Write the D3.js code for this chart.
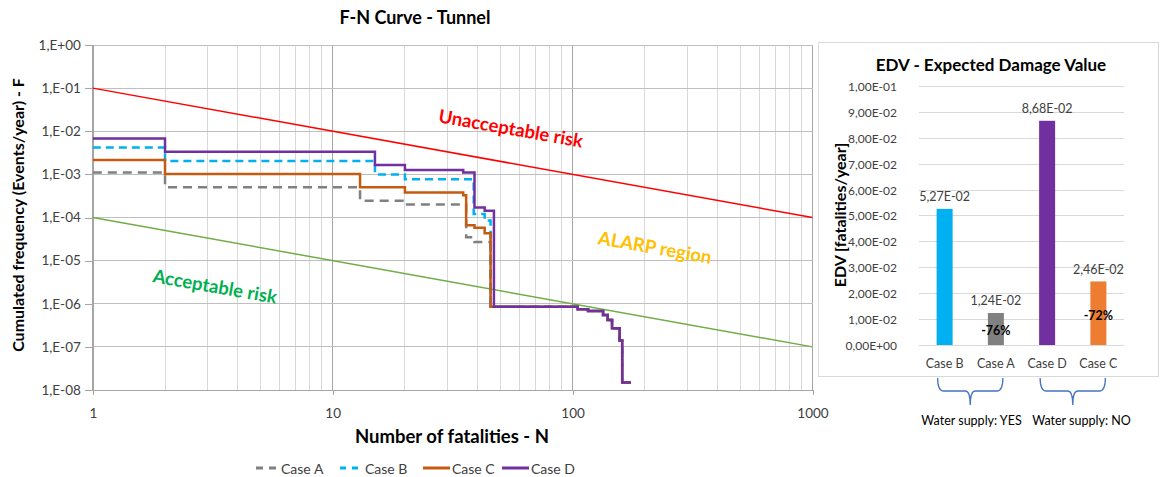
<!DOCTYPE html>
<html><head><meta charset="utf-8">
<script src="https://cdn.jsdelivr.net/npm/d3@7"></script>
<style>
body{margin:0;background:#fff;}
svg{display:block;font-family:Lato, "Open Sans", sans-serif;}
</style></head>
<body>
<svg id="c" width="1162" height="477"></svg>
<script>
// ---------- DATA: F-N curve ----------
const caseA_N = [1, 2, 13, 20, 36, 39, 45.5, 105, 116, 134, 140, 146, 157, 161, 175];
const caseA_F = [1.1e-3, 5e-4, 2.45e-4, 2e-4, 3.5e-5, 2.7e-5, 8.5e-7, 7.5e-7, 6.8e-7, 5.5e-7, 4.2e-7, 2.7e-7, 1.4e-7, 1.5e-8, 1.5e-8];
const caseB_N = [1, 2, 15, 20, 38.7, 43, 45.5, 105, 116, 134, 140, 146, 157, 161, 175];
const caseB_F = [4.2e-3, 2.05e-3, 1.0e-3, 7.7e-4, 1.2e-4, 8.5e-5, 8.5e-7, 7.5e-7, 6.8e-7, 5.5e-7, 4.2e-7, 2.7e-7, 1.4e-7, 1.5e-8, 1.5e-8];
const caseC_N = [1, 2, 13, 20, 35, 36, 39, 43, 45.5, 105, 116, 134, 140, 146, 157, 161, 175];
const caseC_F = [2.15e-3, 1.02e-3, 5e-4, 3.8e-4, 3.3e-4, 6.6e-5, 5.8e-5, 4.3e-5, 8.5e-7, 7.5e-7, 6.8e-7, 5.5e-7, 4.2e-7, 2.7e-7, 1.4e-7, 1.5e-8, 1.5e-8];
const caseD_N = [1, 2, 15, 20, 35, 39, 43, 47, 105, 116, 134, 140, 146, 157, 161, 175];
const caseD_F = [6.8e-3, 3.35e-3, 1.64e-3, 1.26e-3, 1.11e-3, 1.71e-4, 1.43e-4, 8.5e-7, 7.5e-7, 6.8e-7, 5.5e-7, 4.2e-7, 2.7e-7, 1.4e-7, 1.5e-8, 1.5e-8];
const seriesNames = ["Case A", "Case B", "Case C", "Case D"];
const riskN = [1, 1000];
const unacceptableF = [1e-1, 1e-4];
const acceptableF = [1e-4, 1e-7];
const yTickValues = [1, 1e-1, 1e-2, 1e-3, 1e-4, 1e-5, 1e-6, 1e-7, 1e-8];
const xTickValues = [1, 10, 100, 1000];
const regionLabels = ["Unacceptable risk", "ALARP region", "Acceptable risk"];

// ---------- DATA: EDV bars ----------
const barCategories = ["Case B", "Case A", "Case D", "Case C"];
const barValues = [5.27e-2, 1.24e-2, 8.68e-2, 2.46e-2];
const barReduction = ["", "-76%", "", "-72%"];
const barTicks = [0, 0.01, 0.02, 0.03, 0.04, 0.05, 0.06, 0.07, 0.08, 0.09, 0.1];
const groupLabels = ["Water supply: YES", "Water supply: NO"];

// ---------- STYLE ----------
const colA = "#808080", colB = "#00B0F0", colC = "#C55A11", colD = "#7030A0";
const barColors = {"Case B": "#00B0F0", "Case A": "#808080", "Case D": "#7030A0", "Case C": "#ED7D31"};

const svg = d3.select("#c");
svg.append("rect").attr("width", 1162).attr("height", 477).attr("fill", "#fff");

// ===== LEFT CHART =====
const x = d3.scaleLog().domain([1, 1000]).range([92.8, 812.5]);
const y = d3.scaleLog().domain([1e-8, 1]).range([390, 45]);
const gL = svg.append("g");

// vertical grid
const vgrid = [];
for (let d = 1; d <= 100; d *= 10) for (let k = 1; k <= 9; k++) vgrid.push(k * d);
vgrid.push(1000);
gL.selectAll(".vg").data(vgrid).enter().append("line")
  .attr("x1", d => x(d)).attr("x2", d => x(d))
  .attr("y1", y(1)).attr("y2", y(1e-8))
  .attr("stroke", d => [1, 10, 100, 1000].includes(d) ? "#a6a6a6" : "#d9d9d9")
  .attr("stroke-width", 1).attr("shape-rendering", "crispEdges");
// horizontal grid
gL.selectAll(".hg").data(yTickValues).enter().append("line")
  .attr("x1", x(1)).attr("x2", x(1000))
  .attr("y1", d => y(d)).attr("y2", d => y(d))
  .attr("stroke", "#bfbfbf").attr("stroke-width", 1).attr("shape-rendering", "crispEdges");

// axes
const fmtY = v => { const k = Math.round(Math.log10(v)); return "1,E" + (k >= 0 ? "+" : "-") + String(Math.abs(k)).padStart(2, "0"); };
const yAx = gL.append("g").attr("transform", `translate(${x(1)},0)`)
  .call(d3.axisLeft(y).tickValues(yTickValues).tickFormat(fmtY).tickSize(8).tickPadding(4));
const xAx = gL.append("g").attr("transform", `translate(0,${y(1e-8)})`)
  .call(d3.axisBottom(x).tickValues(xTickValues).tickFormat(d => String(d)).tickSize(5).tickPadding(13));
[yAx, xAx].forEach(a => {
  a.selectAll("path,line").attr("stroke", "#a6a6a6").attr("shape-rendering", "crispEdges");
  a.selectAll("text").attr("fill", "#404040").style("font-size", "13.5px").style("font-family", "Lato");
});

// risk lines
const riskLine = d3.line().x(d => x(d[0])).y(d => y(d[1]));
gL.append("path").datum(riskN.map((n, i) => [n, unacceptableF[i]]))
  .attr("d", riskLine).attr("fill", "none").attr("stroke", "#FF0000").attr("stroke-width", 1.5);
gL.append("path").datum(riskN.map((n, i) => [n, acceptableF[i]]))
  .attr("d", riskLine).attr("fill", "none").attr("stroke", "#70AD47").attr("stroke-width", 1.5);

// step series
const step = d3.line().x(d => x(d[0])).y(d => y(d[1])).curve(d3.curveStepAfter);
const series = [
  {name: "Case A", N: caseA_N, F: caseA_F, color: colA, dash: "9,6"},
  {name: "Case B", N: caseB_N, F: caseB_F, color: colB, dash: "8,5"},
  {name: "Case C", N: caseC_N, F: caseC_F, color: colC, dash: null},
  {name: "Case D", N: caseD_N, F: caseD_F, color: colD, dash: null}
];
series.forEach(s => {
  gL.append("path").datum(s.N.map((n, i) => [n, s.F[i]]))
    .attr("d", step).attr("fill", "none").attr("stroke", s.color)
    .attr("stroke-width", 2.5).attr("stroke-dasharray", s.dash);
});

// region labels
const regionStyle = [
  {cx: 511, cy: 128, color: "#FF0000"},
  {cx: 655, cy: 247, color: "#FFC000"},
  {cx: 215, cy: 286, color: "#00B050"}
];
regionLabels.forEach((t, i) => {
  const r = regionStyle[i];
  gL.append("text").text(t)
    .attr("transform", `translate(${r.cx},${r.cy}) rotate(10)`)
    .attr("text-anchor", "middle").attr("dominant-baseline", "central")
    .attr("fill", r.color).style("font-weight", "bold").style("font-size", "18.5px");
});

// titles
svg.append("text").text("F-N Curve - Tunnel").attr("x", 415).attr("y", 24)
  .attr("text-anchor", "middle").style("font-weight", "bold").style("font-size", "18px").attr("fill", "#000");
svg.append("text").text("Number of fatalities - N").attr("x", 452).attr("y", 443)
  .attr("text-anchor", "middle").style("font-weight", "bold").style("font-size", "18.5px").attr("fill", "#000");
svg.append("text").text("Cumulated frequency (Events/year) - F")
  .attr("transform", "translate(24,215) rotate(-90)")
  .attr("text-anchor", "middle").style("font-weight", "bold").style("font-size", "16px").attr("fill", "#000");

// legend
const legX = [256, 340, 423, 502];
series.forEach((s, i) => {
  const lg = svg.append("g").attr("transform", `translate(${legX[i]},468)`);
  lg.append("line").attr("x1", 0).attr("x2", i < 2 ? 22 : 27).attr("y1", 0).attr("y2", 0)
    .attr("stroke", s.color).attr("stroke-width", 3)
    .attr("stroke-dasharray", i === 0 ? "7,6" : (i === 1 ? "6,6" : null));
  lg.append("text").text(s.name).attr("x", i < 2 ? 25 : 29).attr("y", 0)
    .attr("dominant-baseline", "central").style("font-size", "14px").attr("fill", "#404040");
});

// ===== RIGHT CHART (EDV) =====
svg.append("rect").attr("x", 818.5).attr("y", 42.5).attr("width", 340).attr("height", 334)
  .attr("fill", "#fff").attr("stroke", "#d9d9d9").attr("stroke-width", 1);
const xb = d3.scaleBand().domain(barCategories).range([919, 1124]);
const yb = d3.scaleLinear().domain([0, 0.1]).range([345, 86.7]);
const fmtE = v => {
  const s = v.toExponential(2); const [m, e] = s.split("e");
  const ei = parseInt(e, 10);
  return m.replace(".", ",") + "E" + (ei >= 0 ? "+" : "-") + String(Math.abs(ei)).padStart(2, "0");
};
const gR = svg.append("g");
gR.selectAll(".bg").data(barTicks).enter().append("line")
  .attr("x1", 919).attr("x2", 1124).attr("y1", d => yb(d)).attr("y2", d => yb(d))
  .attr("stroke", "#d9d9d9").attr("shape-rendering", "crispEdges");
gR.selectAll(".bt").data(barTicks).enter().append("text")
  .attr("x", 897).attr("y", d => yb(d)).attr("text-anchor", "end").attr("dominant-baseline", "central")
  .style("font-size", "12px").attr("fill", "#404040").text(fmtE);
const barW = 16;
gR.selectAll(".bar").data(barCategories).enter().append("rect")
  .attr("x", d => xb(d) + xb.bandwidth() / 2 - barW / 2)
  .attr("width", barW)
  .attr("y", (d, i) => yb(barValues[i]))
  .attr("height", (d, i) => yb(0) - yb(barValues[i]))
  .attr("fill", d => barColors[d]);
gR.selectAll(".bl").data(barCategories).enter().append("text")
  .attr("x", d => xb(d) + xb.bandwidth() / 2)
  .attr("y", (d, i) => yb(barValues[i]) - 12)
  .attr("text-anchor", "middle").attr("dominant-baseline", "central")
  .style("font-size", "12.5px").attr("fill", "#404040")
  .text((d, i) => fmtE(barValues[i]));
gR.selectAll(".br").data(barCategories).enter().append("text")
  .attr("x", d => xb(d) + xb.bandwidth() / 2)
  .attr("y", (d, i) => yb(barValues[i] / 2) + 2)
  .attr("text-anchor", "middle").attr("dominant-baseline", "central")
  .style("font-size", "12.5px").style("font-weight", "bold").attr("fill", "#000")
  .text((d, i) => barReduction[i]);
gR.selectAll(".bx").data(barCategories).enter().append("text")
  .attr("x", d => xb(d) + xb.bandwidth() / 2).attr("y", 363)
  .attr("text-anchor", "middle").attr("dominant-baseline", "central")
  .style("font-size", "12.5px").attr("fill", "#404040").text(d => d);
svg.append("text").text("EDV - Expected Damage Value").attr("x", 991).attr("y", 64)
  .attr("text-anchor", "middle").attr("dominant-baseline", "central")
  .style("font-weight", "bold").style("font-size", "17px").attr("fill", "#000");
svg.append("text").text("EDV [fatalities/year]")
  .attr("transform", "translate(839,215) rotate(-90)")
  .attr("text-anchor", "middle").attr("dominant-baseline", "central")
  .style("font-weight", "bold").style("font-size", "16px").attr("fill", "#000");

// braces
const groups = [[barCategories[0], barCategories[1]], [barCategories[2], barCategories[3]]];
groups.forEach((g, i) => {
  const x1 = xb(g[0]) + xb.bandwidth() / 2 - 7, x2 = xb(g[1]) + xb.bandwidth() / 2 + 7;
  const m = (x1 + x2) / 2, t = 378, b = 391, p = 405;
  const d = `M${x1},${t} Q${x1},${b} ${x1 + 6},${b} L${m - 5},${b} Q${m},${b} ${m},${p} Q${m},${b} ${m + 5},${b} L${x2 - 6},${b} Q${x2},${b} ${x2},${t}`;
  svg.append("path").attr("d", d).attr("fill", "none").attr("stroke", "#4472C4").attr("stroke-width", 1.3);
  svg.append("text").text(groupLabels[i]).attr("x", i === 0 ? 971.5 : 1081.5).attr("y", 420)
    .attr("text-anchor", "middle").attr("dominant-baseline", "central")
    .style("font-size", "12.5px").attr("fill", "#000");
});
</script>
</body></html>
